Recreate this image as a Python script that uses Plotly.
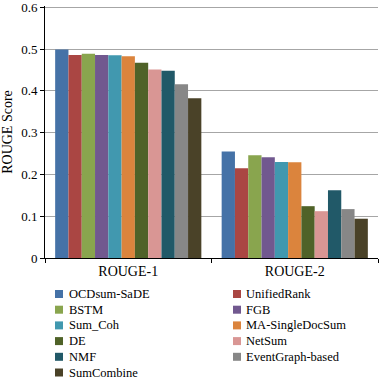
import plotly.graph_objects as go

categories = ["ROUGE-1", "ROUGE-2"]
methods = ["OCDsum-SaDE", "UnifiedRank", "BSTM", "FGB", "Sum_Coh", "MA-SingleDocSum",
           "DE", "NetSum", "NMF", "EventGraph-based", "SumCombine"]
rouge1 = [0.499, 0.486, 0.489, 0.486, 0.485, 0.483, 0.467, 0.451, 0.448, 0.416, 0.382]
rouge2 = [0.255, 0.215, 0.246, 0.241, 0.230, 0.229, 0.124, 0.112, 0.162, 0.117, 0.094]
colors = ["#4572A7", "#AA4643", "#89A54E", "#71588F", "#4198AF", "#DB843D",
          "#4F6228", "#D99694", "#215968", "#878787", "#4A4228"]
y_ticks = [0, 0.1, 0.2, 0.3, 0.4, 0.5, 0.6]
y_ticklabels = ["0", "0.1", "0.2", "0.3", "0.4", "0.5", "0.6"]

FONT = "Liberation Serif, Times New Roman, serif"

W, H = 380, 380
ML, MR, MT, MB = 45, 2, 6, 122
PW, PH = W - ML - MR, H - MT - MB

fig = go.Figure()
for i, m in enumerate(methods):
    fig.add_trace(go.Bar(
        x=categories, y=[rouge1[i], rouge2[i]], name=m,
        marker=dict(color=colors[i], line=dict(width=0)),
        showlegend=False,
    ))

# Custom two-column legend (row-major) built from the method list
def px_to_paper(px, py):
    return (px - ML) / PW, (H - MB - py) / PH

col_marker_x = [59, 237]
col_text_x = [67, 244]
row0_y, row_dy = 294, 15.7
sq = 4
for i, m in enumerate(methods):
    r, c = divmod(i, 2)
    cy = row0_y + r * row_dy
    x0, y0 = px_to_paper(col_marker_x[c] - sq, cy + sq)
    x1, y1 = px_to_paper(col_marker_x[c] + sq, cy - sq)
    fig.add_shape(type="rect", xref="paper", yref="paper", x0=x0, y0=y0, x1=x1, y1=y1,
                  fillcolor=colors[i], line=dict(width=0))
    tx, ty = px_to_paper(col_text_x[c], cy)
    fig.add_annotation(xref="paper", yref="paper", x=tx, y=ty, text=m,
                       showarrow=False, xanchor="left", yanchor="middle",
                       font=dict(family=FONT, size=12.5, color="black"))

fig.update_layout(
    width=W, height=H,
    margin=dict(l=ML, r=MR, t=MT, b=MB),
    paper_bgcolor="white", plot_bgcolor="white",
    barmode="group", bargap=0.122, bargroupgap=0,
    font=dict(family=FONT, size=13, color="black"),
    showlegend=False,
    xaxis=dict(
        showline=True, linecolor="black", linewidth=1,
        ticks="outside", tickson="boundaries", ticklen=4, tickcolor="black",
        tickfont=dict(family=FONT, size=14),
        showgrid=False, automargin=False,
    ),
    yaxis=dict(
        range=[0, 0.603], tickvals=y_ticks, ticktext=y_ticklabels,
        showline=True, linecolor="black", linewidth=1,
        ticks="outside", ticklen=4, tickcolor="black",
        showgrid=True, gridcolor="#A6A6A6", gridwidth=1,
        tickfont=dict(family=FONT, size=13),
        ticklabeloverflow="allow",
        title=dict(text="ROUGE Score", font=dict(family=FONT, size=14), standoff=6),
        zeroline=False, automargin=False,
    ),
)

fig.write_html("out.html", config={"displayModeBar": False},
               post_script="document.body.style.margin='0';document.body.style.padding='0';")
